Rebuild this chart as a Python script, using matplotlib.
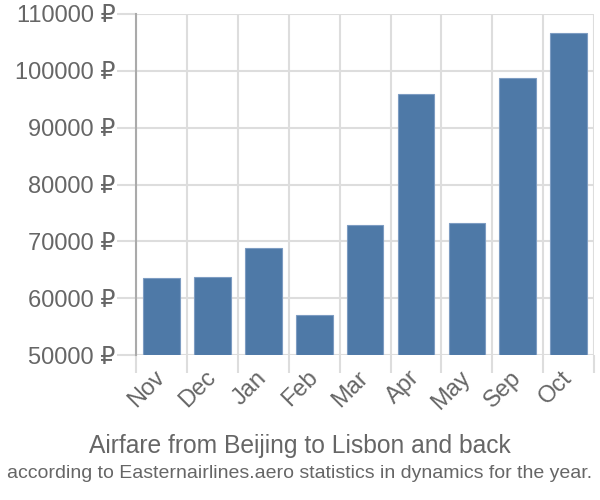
"""Airfare bar chart, Beijing <-> Lisbon."""
import matplotlib

matplotlib.use("Agg")
import matplotlib.pyplot as plt  # noqa: E402
import numpy as np  # noqa: E402

plt.rcParams["font.family"] = ["Liberation Sans", "DejaVu Sans"]

months = ["Nov", "Dec", "Jan", "Feb", "Mar", "Apr", "May", "Sep", "Oct"]
prices = [63600, 63700, 68800, 57000, 72800, 95900, 73250, 98700, 106650]
yticks = [50000, 60000, 70000, 80000, 90000, 100000, 110000]

grid_c = "#dddddd"
text_c = "#666666"
bar_c = "#4e79a7"

fig = plt.figure(figsize=(6, 5), dpi=100)
ax = fig.add_axes([0.227, 0.29, 0.763, 0.682])

x = np.arange(len(months))
ax.bar(x, np.array(prices) - 50000, bottom=50000, width=0.72,
       color=bar_c, edgecolor="#7d9cc2", linewidth=0.8, zorder=3)

ax.set_xlim(-0.5, len(months) - 0.5)
ax.set_ylim(50000, 110000)

ax.set_yticks(yticks)
ax.set_yticklabels([f"{v} ₽" for v in yticks])
ax.set_xticks(x)
ax.set_xticklabels(months, rotation=45, ha="right", va="center",
                   rotation_mode="anchor")
ax.set_xticks(np.arange(len(months) + 1) - 0.5, minor=True)

ax.tick_params(axis="y", length=14, color=grid_c, width=1.5, pad=1,
               labelsize=17, labelcolor=text_c)
ax.tick_params(axis="x", which="major", length=0, pad=14,
               labelsize=17, labelcolor=text_c)
ax.tick_params(axis="x", which="minor", length=13, color=grid_c, width=1.5)
ax.xaxis.get_minorticklines()[0].set_color("#aaaaaa")

ax.grid(axis="y", color=grid_c, linewidth=1.5, zorder=0)
ax.grid(axis="x", which="minor", color=grid_c, linewidth=1.5, zorder=0)

for s in ["top", "right", "bottom"]:
    ax.spines[s].set_visible(False)
ax.spines["left"].set_color("#aaaaaa")
ax.spines["left"].set_linewidth(1.5)

fig.text(0.5, 0.108, "Airfare from Beijing to Lisbon and back",
         ha="center", va="center", fontsize=17.7, color=text_c)
fig.text(0.5, 0.052,
         "according to Easternairlines.aero statistics in dynamics for the year.",
         ha="center", va="center", fontsize=14, color=text_c)

fig.savefig("out.png", dpi=100)
plt.close(fig)
